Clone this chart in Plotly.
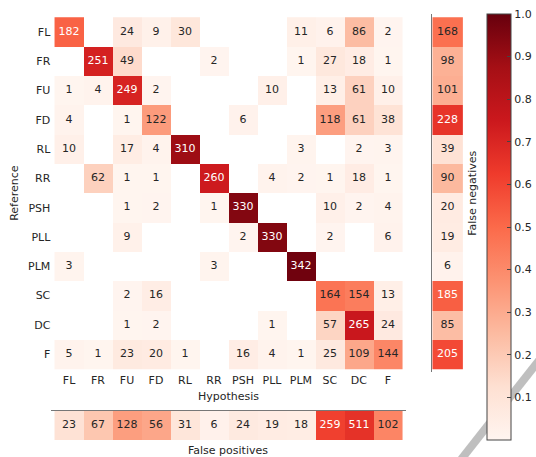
import plotly.graph_objects as go

# Class labels (rows = reference, columns = hypothesis)
classes = ["FL", "FR", "FU", "FD", "RL", "RR", "PSH", "PLL", "PLM", "SC", "DC", "F"]

# Confusion counts, one list per reference class (0 = empty cell)
row_FL = [182, 0, 24, 9, 30, 0, 0, 0, 11, 6, 86, 2]
row_FR = [0, 251, 49, 0, 0, 2, 0, 0, 1, 27, 18, 1]
row_FU = [1, 4, 249, 2, 0, 0, 0, 10, 0, 13, 61, 10]
row_FD = [4, 0, 1, 122, 0, 0, 6, 0, 0, 118, 61, 38]
row_RL = [10, 0, 17, 4, 310, 0, 0, 0, 3, 0, 2, 3]
row_RR = [0, 62, 1, 1, 0, 260, 0, 4, 2, 1, 18, 1]
row_PSH = [0, 0, 1, 2, 0, 1, 330, 0, 0, 10, 2, 4]
row_PLL = [0, 0, 9, 0, 0, 0, 2, 330, 0, 2, 0, 6]
row_PLM = [3, 0, 0, 0, 0, 3, 0, 0, 342, 0, 0, 0]
row_SC = [0, 0, 2, 16, 0, 0, 0, 0, 0, 164, 154, 13]
row_DC = [0, 0, 1, 2, 0, 0, 0, 1, 0, 57, 265, 24]
row_F = [5, 1, 23, 20, 1, 0, 16, 4, 1, 25, 109, 144]

false_negatives = [168, 98, 101, 228, 39, 90, 20, 19, 6, 185, 85, 205]
false_positives = [23, 67, 128, 56, 31, 6, 24, 19, 18, 259, 511, 102]

colorbar_ticks = [0.1, 0.2, 0.3, 0.4, 0.5, 0.6, 0.7, 0.8, 0.9, 1.0]

matrix = [row_FL, row_FR, row_FU, row_FD, row_RL, row_RR,
          row_PSH, row_PLL, row_PLM, row_SC, row_DC, row_F]

n = len(classes)
row_totals = [sum(r) for r in matrix]
col_totals = [sum(matrix[i][j] for i in range(n)) for j in range(n)]

# Matplotlib "Reds"
reds = ["#fff5f0", "#fee0d2", "#fcbba1", "#fc9272", "#fb6a4a",
        "#ef3b2c", "#cb181d", "#a50f15", "#67000d"]
colorscale = [[i / (len(reds) - 1), c] for i, c in enumerate(reds)]

W, H = 536, 457
FONT = "DejaVu Sans"
TXT = "#262626"


def px_x(v):
    return v / W


def px_y(v):
    return 1 - v / H


# Normalised colour values
z_main = [[(matrix[i][j] / row_totals[i]) if matrix[i][j] else None for j in range(n)]
          for i in range(n)]
z_fn = [[false_negatives[i] / row_totals[i]] for i in range(n)]
z_fp = [[false_positives[j] / col_totals[j] for j in range(n)]]

fig = go.Figure()

fig.add_trace(go.Heatmap(
    z=z_main, x=classes, y=classes, xaxis="x", yaxis="y",
    colorscale=colorscale, zmin=0, zmax=1, hoverinfo="skip",
    colorbar=dict(
        x=px_x(493), xanchor="left", xpad=0,
        y=px_y(14), yanchor="top", ypad=0,
        len=426, lenmode="pixels",
        thickness=24, thicknessmode="pixels",
        outlinewidth=1, outlinecolor="#444",
        tickvals=colorbar_ticks,
        ticktext=[f"{t:.1f}" for t in colorbar_ticks],
        ticks="inside", ticklen=4, tickcolor="#444",
        tickfont=dict(family=FONT, size=11, color=TXT),
    ),
))

fig.add_trace(go.Heatmap(
    z=z_fn, x=[0], y=classes, xaxis="x2", yaxis="y2",
    colorscale=colorscale, zmin=0, zmax=1, showscale=False, hoverinfo="skip",
))

fig.add_trace(go.Heatmap(
    z=z_fp, x=classes, y=[0], xaxis="x3", yaxis="y3",
    colorscale=colorscale, zmin=0, zmax=1, showscale=False, hoverinfo="skip",
))


def text_traces(xs, ys, vals, norms, xa, ya):
    for color, pick in (("white", lambda v: v > 0.5), (TXT, lambda v: v <= 0.5)):
        sel = [k for k in range(len(vals)) if vals[k] and pick(norms[k])]
        fig.add_trace(go.Scatter(
            x=[xs[k] for k in sel], y=[ys[k] for k in sel],
            text=[str(vals[k]) for k in sel], mode="text",
            textfont=dict(family=FONT, size=11, color=color),
            xaxis=xa, yaxis=ya, showlegend=False, hoverinfo="skip",
        ))


# cell labels
mx, my, mv, mn = [], [], [], []
for i in range(n):
    for j in range(n):
        mx.append(classes[j]); my.append(classes[i])
        mv.append(matrix[i][j]); mn.append(matrix[i][j] / row_totals[i])
text_traces(mx, my, mv, mn, "x", "y")
text_traces([0] * n, classes, false_negatives, [r[0] for r in z_fn], "x2", "y2")
text_traces(classes, [0] * n, false_positives, z_fp[0], "x3", "y3")

main_xdom = [px_x(52), px_x(411)]
main_ydom = [px_y(372), px_y(14)]
tickfont = dict(family=FONT, size=11, color=TXT)
hidden = dict(showgrid=False, zeroline=False, showticklabels=False, ticks="")


def label(text, x, y, angle=0):
    return dict(text=text, x=px_x(x), y=px_y(y), xref="paper", yref="paper",
                xanchor="center", yanchor="middle", showarrow=False, textangle=angle,
                font=dict(family=FONT, size=11, color=TXT))


fig.update_layout(
    width=W, height=H,
    margin=dict(l=0, r=0, t=0, b=0),
    paper_bgcolor="white", plot_bgcolor="white",
    showlegend=False,
    xaxis=dict(domain=main_xdom, anchor="y", type="category",
               categoryorder="array", categoryarray=classes,
               showgrid=False, zeroline=False, ticks="", tickfont=tickfont),
    yaxis=dict(domain=main_ydom, anchor="x", type="category",
               categoryorder="array", categoryarray=classes, autorange="reversed",
               showgrid=False, zeroline=False, ticks="", tickfont=tickfont),
    xaxis2=dict(domain=[px_x(438), px_x(469)], anchor="y2", range=[-0.5, 0.5], **hidden),
    yaxis2=dict(domain=main_ydom, anchor="x2", type="category",
                categoryorder="array", categoryarray=classes, autorange="reversed",
                showline=True, linecolor="#777", linewidth=1, side="left", **hidden),
    xaxis3=dict(domain=main_xdom, anchor="y3", type="category",
                categoryorder="array", categoryarray=classes, side="top",
                showline=True, linecolor="#777", linewidth=1, **hidden),
    yaxis3=dict(domain=[px_y(440), px_y(411)], anchor="x3", range=[-0.5, 0.5], **hidden),
    annotations=[
        label("Hypothesis", 231.5, 396),
        label("False positives", 231.5, 450),
        label("Reference", 14, 193, -90),
        label("False negatives", 478, 193, -90),
    ],
    shapes=[
        # diagonal grey band across the lower-right corner
        dict(type="line", xref="paper", yref="paper",
             x0=px_x(462), y0=px_y(466), x1=px_x(548), y1=px_y(358),
             line=dict(color="rgba(170,170,170,0.75)", width=8), layer="above"),
    ],
)

fig.write_html("out.html")
